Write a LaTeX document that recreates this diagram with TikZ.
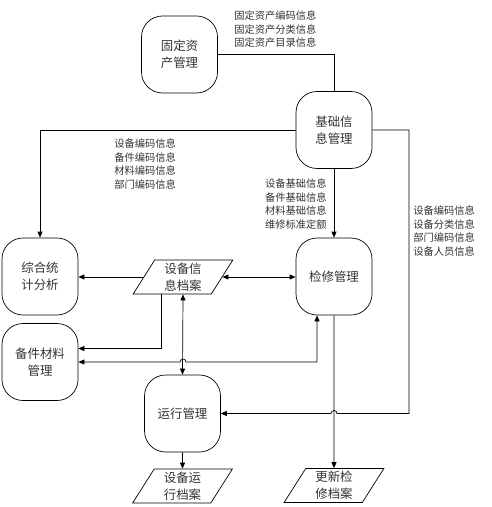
\documentclass[tikz,border=0pt]{standalone}
\usepackage{fontspec}
\setmainfont{Noto Sans CJK SC}
\usetikzlibrary{arrows.meta, shapes.geometric}

\begin{document}
\begin{tikzpicture}[x=1bp, y=-1bp, line width=0.7pt, >={Triangle[length=6bp,width=5bp]},
  proc/.style={draw, rounded corners=21bp, minimum width=76bp, minimum height=77bp,
    inner sep=0pt, align=center, text=black!80, font=\fontsize{12.5}{17}\selectfont},
  record/.style={draw, trapezium, trapezium left angle=63.4, trapezium right angle=116.6,
    trapezium stretches=true, minimum width=100bp, minimum height=34bp,
    inner sep=0pt, align=center, text=black!80, font=\fontsize{12.5}{17}\selectfont},
  info/.style={inner sep=0pt, text=black!80, font=\fontsize{10.3}{14}\selectfont}]

  \useasboundingbox (0,0) rectangle (492,507);

  % Processes
  \node[proc] (fixed)  at (179.5,54.5) {固定资\\产管理};
  \node[proc] (base)   at (334,130)    {基础信\\息管理};
  \node[proc] (stat)   at (40,276.5)   {综合统\\计分析};
  \node[proc] (repair) at (334,276.5)  {检修管理};
  \node[proc] (spare)  at (40,362)     {备件材料\\管理};
  \node[proc] (run)    at (182.5,413.5) {运行管理};

  % Records
  \node[record] (devrec) at (183,277)   {设备信\\息档案};
  \node[record] (runrec) at (182.5,486) {设备运\\行档案};
  \node[record] (updrec) at (334,485.5) {更新检\\修档案};

  % Crossings
  \coordinate (hopA) at (repair.south |- run.east);   % run line over repair line
  \coordinate (hopB) at (devrec.south |- spare.east); % spare line over devrec line

  % Flows from base
  \draw (fixed.east) -| (base.north);
  \draw[->] (base.west) -| (stat.north);
  \draw[->] (base.south) -- (repair.north);
  \draw[->] (base.east) -| (409,413.5) -- ([xshift=3bp]hopA) arc (0:180:3bp) -- (run.east);

  % Flows round devrec
  \draw[->] (devrec.west) -- (devrec.west -| stat.east);
  \draw[<->] (devrec.east) -- (devrec.east -| repair.west);
  \draw[<->] (devrec.south) -- (run.north);
  \draw[->] ([xshift=-22bp]devrec.south) |- ([yshift=13.5bp]spare.east);
  \draw[<->] (spare.east) -- ([xshift=-3bp]hopB) arc (180:0:3bp) -| ([xshift=-17bp]repair.south);

  % Archives
  \draw[->] (run.south) -- (runrec.north);
  \draw[->] (repair.south) -- (updrec.north);

  % Labels
  \node[info, anchor=north west, align=left] (lblfixed) at (234,10)
    {固定资产编码信息\\固定资产分类信息\\固定资产目录信息};
  \node[info, anchor=north west, align=left] (lblstat) at (114,138)
    {设备编码信息\\备件编码信息\\材料编码信息\\部门编码信息};
  \node[info, anchor=north east, align=right] (lblrepair) at (327,178)
    {设备基础信息\\备件基础信息\\材料基础信息\\维修标准定额};
  \node[info, anchor=north west, align=left] (lblrun) at (413,205)
    {设备编码信息\\设备分类信息\\部门编码信息\\设备人员信息};

\end{tikzpicture}
\end{document}
